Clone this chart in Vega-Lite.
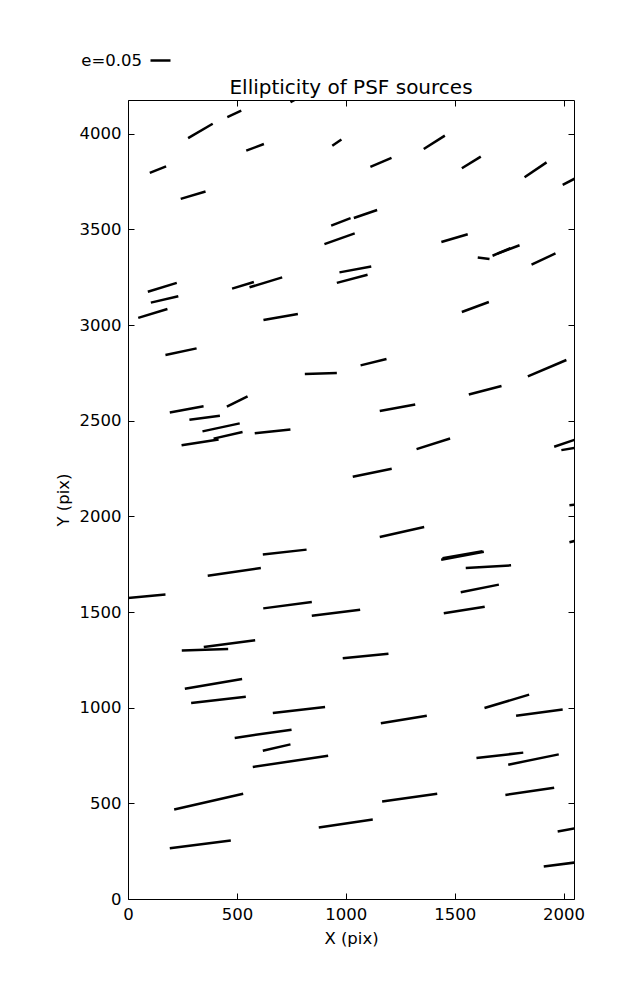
{
 "$schema": "https://vega.github.io/schema/vega-lite/v6.json",
 "width": 446, "height": 799,
 "autosize": {"type": "none"},
 "padding": {"left": 128, "top": 100, "right": 63, "bottom": 101},
 "background": "white",
 "config": {
  "font": "DejaVu Sans",
  "view": {"stroke": "black", "strokeWidth": 1},
  "axis": {"domain": false, "grid": false, "ticks": true, "tickSize": -6, "tickColor": "black", "tickWidth": 1, "labelFontSize": 16.5, "labelColor": "black", "labelPadding": 13, "labelFlush": false, "labelOverlap": false, "titleFontSize": 16.5, "titleFontWeight": "normal", "titleColor": "black", "labelFont": "DejaVu Sans", "titleFont": "DejaVu Sans"}
 },
 "title": {"text": "Ellipticity of PSF sources", "fontSize": 20, "fontWeight": "normal", "color": "black", "font": "DejaVu Sans", "frame": "group", "anchor": "middle", "baseline": "alphabetic", "offset": 6, "dy": 71},
 "data": {"values": [
  {"x1": 276, "y1": 3977, "x2": 389, "y2": 4052},
  {"x1": 456, "y1": 4087, "x2": 520, "y2": 4120},
  {"x1": 543, "y1": 3911, "x2": 624, "y2": 3946},
  {"x1": 100, "y1": 3795, "x2": 175, "y2": 3829},
  {"x1": 242, "y1": 3659, "x2": 356, "y2": 3698},
  {"x1": 91, "y1": 3174, "x2": 224, "y2": 3220},
  {"x1": 105, "y1": 3117, "x2": 231, "y2": 3150},
  {"x1": 478, "y1": 3190, "x2": 578, "y2": 3225},
  {"x1": 558, "y1": 3197, "x2": 708, "y2": 3249},
  {"x1": 746, "y1": 4165, "x2": 792, "y2": 4193},
  {"x1": 938, "y1": 3937, "x2": 980, "y2": 3970},
  {"x1": 1358, "y1": 3920, "x2": 1455, "y2": 3990},
  {"x1": 1113, "y1": 3826, "x2": 1210, "y2": 3873},
  {"x1": 933, "y1": 3519, "x2": 1022, "y2": 3559},
  {"x1": 1037, "y1": 3559, "x2": 1144, "y2": 3601},
  {"x1": 902, "y1": 3423, "x2": 1041, "y2": 3479},
  {"x1": 971, "y1": 3275, "x2": 1117, "y2": 3306},
  {"x1": 959, "y1": 3220, "x2": 1100, "y2": 3263},
  {"x1": 1533, "y1": 3819, "x2": 1620, "y2": 3880},
  {"x1": 1821, "y1": 3772, "x2": 1922, "y2": 3850},
  {"x1": 1996, "y1": 3732, "x2": 2068, "y2": 3775},
  {"x1": 1439, "y1": 3434, "x2": 1560, "y2": 3474},
  {"x1": 1606, "y1": 3353, "x2": 1660, "y2": 3345},
  {"x1": 1674, "y1": 3362, "x2": 1756, "y2": 3402},
  {"x1": 1697, "y1": 3373, "x2": 1798, "y2": 3417},
  {"x1": 1853, "y1": 3315, "x2": 1963, "y2": 3374},
  {"x1": 622, "y1": 3026, "x2": 780, "y2": 3058},
  {"x1": 47, "y1": 3037, "x2": 181, "y2": 3084},
  {"x1": 172, "y1": 2843, "x2": 315, "y2": 2878},
  {"x1": 192, "y1": 2543, "x2": 347, "y2": 2575},
  {"x1": 454, "y1": 2573, "x2": 549, "y2": 2627},
  {"x1": 282, "y1": 2505, "x2": 422, "y2": 2526},
  {"x1": 342, "y1": 2444, "x2": 513, "y2": 2486},
  {"x1": 246, "y1": 2371, "x2": 416, "y2": 2402},
  {"x1": 393, "y1": 2406, "x2": 526, "y2": 2441},
  {"x1": 582, "y1": 2434, "x2": 746, "y2": 2454},
  {"x1": 812, "y1": 2744, "x2": 959, "y2": 2749},
  {"x1": 1068, "y1": 2789, "x2": 1187, "y2": 2822},
  {"x1": 1156, "y1": 2551, "x2": 1319, "y2": 2584},
  {"x1": 1325, "y1": 2351, "x2": 1479, "y2": 2407},
  {"x1": 1032, "y1": 2207, "x2": 1211, "y2": 2249},
  {"x1": 1533, "y1": 3068, "x2": 1657, "y2": 3120},
  {"x1": 1836, "y1": 2731, "x2": 2013, "y2": 2817},
  {"x1": 1565, "y1": 2637, "x2": 1715, "y2": 2681},
  {"x1": 1957, "y1": 2364, "x2": 2059, "y2": 2403},
  {"x1": 1990, "y1": 2346, "x2": 2068, "y2": 2361},
  {"x1": -44, "y1": 1569, "x2": 172, "y2": 1591},
  {"x1": 366, "y1": 1690, "x2": 610, "y2": 1730},
  {"x1": 619, "y1": 1801, "x2": 820, "y2": 1826},
  {"x1": 621, "y1": 1519, "x2": 844, "y2": 1552},
  {"x1": 247, "y1": 1299, "x2": 460, "y2": 1307},
  {"x1": 348, "y1": 1317, "x2": 584, "y2": 1352},
  {"x1": 261, "y1": 1099, "x2": 524, "y2": 1150},
  {"x1": 290, "y1": 1024, "x2": 541, "y2": 1057},
  {"x1": 1156, "y1": 1892, "x2": 1360, "y2": 1944},
  {"x1": 844, "y1": 1481, "x2": 1066, "y2": 1512},
  {"x1": 986, "y1": 1258, "x2": 1196, "y2": 1282},
  {"x1": 2027, "y1": 2058, "x2": 2078, "y2": 2064},
  {"x1": 2027, "y1": 1865, "x2": 2078, "y2": 1878},
  {"x1": 1438, "y1": 1773, "x2": 1634, "y2": 1815},
  {"x1": 1444, "y1": 1781, "x2": 1628, "y2": 1818},
  {"x1": 1551, "y1": 1730, "x2": 1759, "y2": 1744},
  {"x1": 1528, "y1": 1603, "x2": 1703, "y2": 1643},
  {"x1": 1450, "y1": 1493, "x2": 1638, "y2": 1528},
  {"x1": 1637, "y1": 998, "x2": 1842, "y2": 1068},
  {"x1": 665, "y1": 972, "x2": 905, "y2": 1004},
  {"x1": 490, "y1": 842, "x2": 751, "y2": 885},
  {"x1": 619, "y1": 775, "x2": 746, "y2": 808},
  {"x1": 573, "y1": 690, "x2": 919, "y2": 749},
  {"x1": 212, "y1": 468, "x2": 529, "y2": 550},
  {"x1": 192, "y1": 265, "x2": 472, "y2": 306},
  {"x1": 1161, "y1": 918, "x2": 1372, "y2": 958},
  {"x1": 1167, "y1": 509, "x2": 1420, "y2": 550},
  {"x1": 876, "y1": 374, "x2": 1124, "y2": 415},
  {"x1": 1782, "y1": 958, "x2": 1996, "y2": 991},
  {"x1": 1600, "y1": 737, "x2": 1815, "y2": 765},
  {"x1": 1746, "y1": 702, "x2": 1978, "y2": 756},
  {"x1": 1733, "y1": 544, "x2": 1957, "y2": 582},
  {"x1": 1973, "y1": 353, "x2": 2068, "y2": 373},
  {"x1": 1909, "y1": 170, "x2": 2068, "y2": 193}
 ]},
 "layer": [
  {
   "mark": {"type": "rule", "strokeWidth": 2.5, "clip": true, "strokeCap": "butt"},
   "encoding": {
    "x": {"field": "x1", "type": "quantitative", "scale": {"domain": [0, 2048], "nice": false, "zero": false},
          "axis": {"orient": "bottom", "values": [0, 500, 1000, 1500, 2000], "format": "d", "title": "X (pix)", "titleX": 223, "titleY": 44, "titleBaseline": "alphabetic", "titleAlign": "center"}},
    "y": {"field": "y1", "type": "quantitative", "scale": {"domain": [0, 4176], "nice": false, "zero": false},
          "axis": {"orient": "left", "values": [0, 500, 1000, 1500, 2000, 2500, 3000, 3500, 4000], "format": "d", "title": "Y (pix)", "titleX": -60, "titleY": 399.5, "titleAngle": -90, "titleBaseline": "alphabetic", "titleAlign": "center"}},
    "x2": {"field": "x2"},
    "y2": {"field": "y2"},
    "stroke": {"datum": "e=0.05", "type": "nominal", "scale": {"range": ["black"]},
               "legend": {"orient": "none", "legendX": 21, "legendY": -51, "symbolType": "stroke", "symbolSize": 400, "symbolStrokeWidth": 2.5, "symbolStrokeColor": "black", "labelAlign": "right", "labelOffset": -30, "labelFontSize": 16.5, "labelColor": "black", "labelFont": "DejaVu Sans", "title": null, "padding": 0}}
   }
  },
  {
   "mark": {"type": "rule", "opacity": 0},
   "encoding": {
    "x": {"field": "x1", "type": "quantitative", "axis": {"orient": "top", "values": [0, 500, 1000, 1500, 2000], "labels": false, "title": null}},
    "y": {"field": "y1", "type": "quantitative", "axis": {"orient": "right", "values": [0, 500, 1000, 1500, 2000, 2500, 3000, 3500, 4000], "labels": false, "title": null}},
    "x2": {"field": "x2"},
    "y2": {"field": "y2"}
   }
  }
 ],
 "resolve": {"axis": {"x": "independent", "y": "independent"}}
}
